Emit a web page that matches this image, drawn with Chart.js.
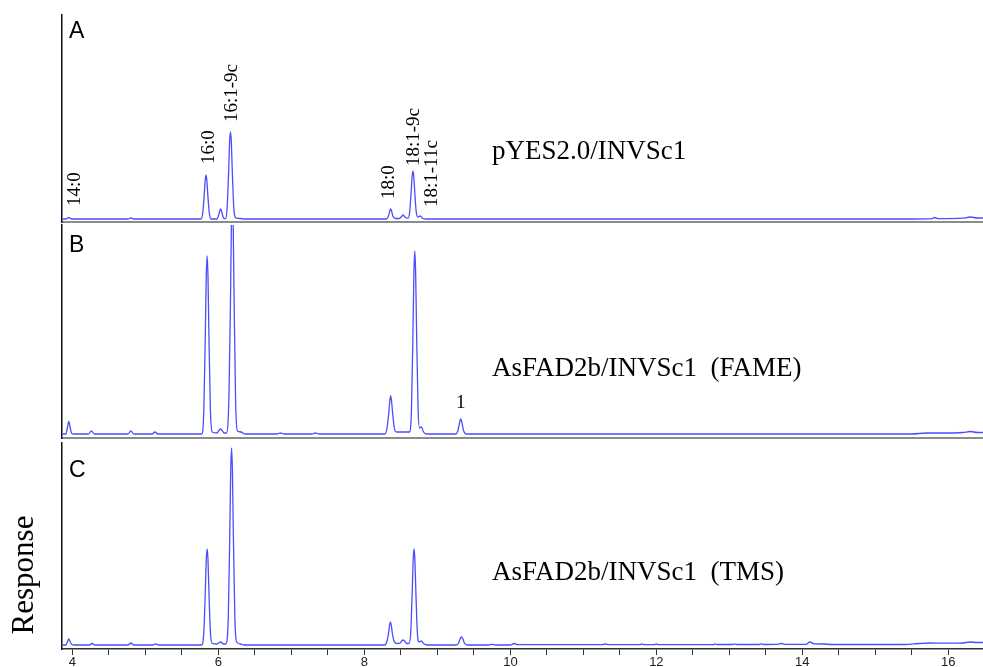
<!DOCTYPE html>
<html>
<head>
<meta charset="utf-8">
<script src="https://cdn.jsdelivr.net/npm/chart.js@4.4.1/dist/chart.umd.min.js"></script>
<style>
  html, body { margin: 0; padding: 0; background: #fff; overflow: hidden; }
  #wrap { position: relative; width: 983px; height: 667px; }
  #wrap canvas { position: absolute; left: 0; top: 0; }
</style>
</head>
<body>
<div id="wrap">
  <canvas id="chartA" width="983" height="667"></canvas>
  <canvas id="chartB" width="983" height="667"></canvas>
  <canvas id="chartC" width="983" height="667"></canvas>
</div>
<script>
// Retention time (min), detector response (arbitrary units) for each chromatogram.

// A: pYES2.0 empty-vector control
const traceA = [
  [3.85, 0], [3.91, 0], [3.95, 1.5], [3.99, 0],
  [4.76, 0], [4.80, 1], [4.84, 0],
  [5.76, 0], [5.785, 6], [5.807, 26], [5.818, 38], [5.83, 44], [5.842, 38], [5.853, 26], [5.875, 6], [5.90, 0],
  [5.98, 0], [6.00, 3], [6.018, 8], [6.03, 10], [6.042, 8], [6.06, 3], [6.08, 0.3],
  [6.10, 0.5], [6.12, 12], [6.142, 52], [6.153, 77], [6.165, 87], [6.177, 77], [6.188, 52], [6.21, 12], [6.24, 1], [6.30, 0.5], [6.36, 0],
  [8.30, 0], [8.33, 3], [8.348, 8], [8.36, 10], [8.372, 8], [8.39, 3], [8.42, 0.5],
  [8.48, 0.5], [8.51, 2.5], [8.53, 4], [8.55, 2.5], [8.58, 0.8],
  [8.60, 0.8], [8.62, 7], [8.642, 29], [8.653, 42], [8.665, 48], [8.677, 42], [8.688, 29], [8.71, 7], [8.735, 2],
  [8.765, 3], [8.80, 0.5], [8.85, 0],
  [12.0, 0], [15.5, 0], [15.78, 0.3], [15.81, 1.5], [15.86, 0.4], [16.2, 0.8], [16.3, 2], [16.4, 1], [16.475, 1]
];

// B: AsFAD2b, fatty acid methyl esters
const traceB = [
  [3.85, 0], [3.91, 0], [3.93, 6], [3.95, 12.5], [3.97, 6], [3.99, 0.5], [4.03, 0],
  [4.22, 0], [4.26, 3], [4.30, 0],
  [4.76, 0], [4.80, 3], [4.84, 0],
  [5.09, 0], [5.13, 2], [5.17, 0],
  [5.77, 0], [5.80, 24], [5.822, 107], [5.833, 157], [5.845, 178], [5.857, 157], [5.868, 107], [5.89, 24], [5.915, 2],
  [5.98, 1], [6.01, 4], [6.03, 5], [6.05, 3.5], [6.08, 1],
  [6.11, 1], [6.145, 40], [6.167, 144], [6.178, 211], [6.19, 240], [6.202, 211], [6.213, 144], [6.235, 34], [6.26, 3],
  [6.31, 2], [6.36, 0],
  [6.80, 0], [6.85, 1], [6.90, 0],
  [7.28, 0], [7.33, 1], [7.38, 0],
  [8.28, 0], [8.31, 6], [8.335, 22], [8.348, 33], [8.36, 38], [8.372, 33], [8.385, 22], [8.41, 6], [8.44, 2],
  [8.54, 2],
  [8.615, 2], [8.645, 25], [8.667, 110], [8.678, 161], [8.69, 183], [8.702, 161], [8.713, 110], [8.735, 26], [8.755, 6],
  [8.78, 7], [8.81, 2], [8.85, 0],
  [9.25, 0], [9.28, 3], [9.30, 10], [9.32, 15], [9.34, 10], [9.36, 3], [9.40, 0],
  [12.0, 0], [15.5, 0], [15.7, 1], [15.9, 1], [16.2, 1.5], [16.3, 2.5], [16.4, 1.5], [16.475, 1.5]
];

// C: AsFAD2b, trimethylsilyl derivatives
const traceC = [
  [3.85, 0], [3.91, 0], [3.93, 3], [3.95, 6], [3.97, 3], [3.99, 0.5], [4.03, 0],
  [4.23, 0], [4.27, 1.5], [4.31, 0],
  [4.76, 0], [4.80, 2], [4.84, 0],
  [5.10, 0], [5.14, 1], [5.18, 0],
  [5.77, 0], [5.80, 13], [5.822, 58], [5.833, 85], [5.845, 96], [5.857, 85], [5.868, 58], [5.89, 13], [5.915, 1.5],
  [5.98, 1], [6.03, 3], [6.07, 1],
  [6.10, 1], [6.135, 27], [6.157, 118], [6.168, 173], [6.18, 197], [6.192, 173], [6.203, 118], [6.225, 27], [6.25, 3],
  [6.30, 1], [6.35, 0],
  [8.28, 0], [8.31, 4], [8.333, 13], [8.345, 20], [8.356, 23], [8.368, 20], [8.38, 13], [8.405, 4], [8.44, 1.5],
  [8.49, 2], [8.51, 4], [8.53, 5], [8.55, 4], [8.58, 1.5],
  [8.61, 1.5], [8.635, 13], [8.657, 58], [8.668, 85], [8.68, 96], [8.692, 85], [8.703, 58], [8.725, 13], [8.75, 3],
  [8.78, 4], [8.81, 1.5], [8.86, 0],
  [9.26, 0], [9.29, 2], [9.31, 6], [9.33, 8], [9.35, 6], [9.37, 2], [9.41, 0],
  [9.70, 0], [9.75, 0.6], [9.80, 0],
  [10.0, 0], [10.05, 1.5], [10.10, 0.3],
  [11.25, 0.3], [11.30, 1], [11.35, 0.3],
  [11.77, 0.3], [11.80, 1], [11.83, 0.3],
  [11.97, 0.3], [12.00, 1], [12.03, 0.3],
  [12.78, 0.3], [12.80, 1], [12.83, 0.5],
  [13.04, 0.5], [13.07, 1], [13.10, 0.5],
  [13.41, 0.5], [13.44, 1.2], [13.47, 0.5],
  [13.66, 0.6], [13.71, 1.5], [13.76, 0.6],
  [14.05, 0.6], [14.10, 3], [14.16, 1.2], [14.30, 1], [14.40, 0.5],
  [15.40, 0.5], [15.60, 1.5], [15.74, 2], [16.0, 1.8], [16.2, 2], [16.3, 3], [16.4, 2.5], [16.475, 2.5]
];

// Time axis
const xMin = 3.85;
const xMax = 16.475;
const xTickValues = [4, 4.5, 5, 5.5, 6, 6.5, 7, 7.5, 8, 8.5, 9, 9.5, 10, 10.5, 11, 11.5, 12, 12.5, 13, 13.5, 14, 14.5, 15, 15.5, 16];
const xTickLabels = ['4', '', '', '', '6', '', '', '', '8', '', '', '', '10', '', '', '', '12', '', '', '', '14', '', '', '', '16'];

// Peak identifications (retention time, response at the foot of the label)
const peakLabelsA = [
  { text: '14:0', t: 4.04, v: 13 },
  { text: '16:0', t: 5.87, v: 55 },
  { text: '16:1-9c', t: 6.19, v: 97 },
  { text: '18:0', t: 8.34, v: 20 },
  { text: '18:1-9c', t: 8.68, v: 53 },
  { text: '18:1-11c', t: 8.93, v: 12 }
];
const peakLabelsB = [
  { text: '1', t: 9.32, v: 26, upright: true }
];

const LINE_COLOR = 'rgb(76, 76, 250)';

// Panel frames and text placement on the page
const panels = {
  chartA: {
    data: traceA, labels: peakLabelsA, yMin: -3, yMax: 204,
    top: 15, bottom: 222, letter: 'A', letterY: 37.5,
    caption: 'pYES2.0/INVSc1', captionY: 159, bottomAxis: false
  },
  chartB: {
    data: traceB, labels: peakLabelsB, yMin: -4, yMax: 209,
    top: 225, bottom: 438, letter: 'B', letterY: 251.5,
    caption: 'AsFAD2b/INVSc1  (FAME)', captionY: 375.5, bottomAxis: false
  },
  chartC: {
    data: traceC, labels: [], yMin: -4, yMax: 202,
    top: 443, bottom: 649, letter: 'C', letterY: 476.5,
    caption: 'AsFAD2b/INVSc1  (TMS)', captionY: 580, bottomAxis: true
  }
};

const PLOT_LEFT = 61.5;
const PAGE_H = 667;
const X_AXIS_H = 18;

const panelText = {
  id: 'panelText',
  afterDatasetsDraw(chart) {
    const p = panels[chart.canvas.id];
    const ctx = chart.ctx;
    const xs = chart.scales.x;
    const ys = chart.scales.y;
    ctx.save();
    ctx.fillStyle = '#000';
    ctx.textAlign = 'left';
    ctx.textBaseline = 'alphabetic';

    ctx.font = '23px "Liberation Sans", Arial, sans-serif';
    ctx.fillText(p.letter, 69, p.letterY);

    ctx.font = '27px "Liberation Serif", "Times New Roman", serif';
    ctx.fillText(p.caption, 492, p.captionY);

    ctx.font = '19px "Liberation Serif", "Times New Roman", serif';
    for (const l of p.labels) {
      const px = xs.getPixelForValue(l.t);
      const py = ys.getPixelForValue(l.v);
      if (l.upright) {
        ctx.textAlign = 'center';
        ctx.textBaseline = 'alphabetic';
        ctx.fillText(l.text, px, py);
      } else {
        ctx.save();
        ctx.translate(px, py);
        ctx.rotate(-Math.PI / 2);
        ctx.textAlign = 'left';
        ctx.textBaseline = 'middle';
        ctx.fillText(l.text, 0, 0);
        ctx.restore();
      }
    }

    if (p.bottomAxis) {
      ctx.save();
      ctx.font = '31px "Liberation Serif", "Times New Roman", serif';
      ctx.translate(25, 575);
      ctx.rotate(-Math.PI / 2);
      ctx.textAlign = 'center';
      ctx.textBaseline = 'middle';
      ctx.fillText('Response', 0, 0);
      ctx.restore();
    }
    ctx.restore();
  }
};

function makePanel(id) {
  const p = panels[id];
  const axisH = p.bottomAxis ? X_AXIS_H : 0;
  new Chart(document.getElementById(id), {
    type: 'line',
    data: {
      datasets: [{
        data: p.data,
        borderColor: LINE_COLOR,
        borderWidth: 1.3,
        pointRadius: 0,
        fill: false,
        cubicInterpolationMode: 'monotone'
      }]
    },
    options: {
      responsive: false,
      animation: false,
      events: [],
      layout: {
        padding: {
          left: PLOT_LEFT,
          right: 0,
          top: p.top,
          bottom: PAGE_H - p.bottom - axisH
        }
      },
      plugins: { legend: { display: false }, tooltip: { enabled: false } },
      scales: {
        x: {
          type: 'linear',
          min: xMin,
          max: xMax,
          afterBuildTicks(axis) { axis.ticks = xTickValues.map(v => ({ value: v })); },
          afterFit(axis) { axis.height = axisH; },
          ticks: {
            display: p.bottomAxis,
            autoSkip: false,
            maxRotation: 0,
            padding: 0,
            color: '#222',
            font: { family: '"Liberation Sans", Arial, sans-serif', size: 13 },
            callback(value, index) { return xTickLabels[index]; }
          },
          grid: {
            display: p.bottomAxis,
            drawOnChartArea: false,
            drawTicks: p.bottomAxis,
            tickLength: 6,
            color: '#333',
            lineWidth: 1
          },
          border: {
            display: true,
            color: p.bottomAxis ? '#333' : '#8c8c8c',
            width: p.bottomAxis ? 1.5 : 2
          }
        },
        y: {
          type: 'linear',
          min: p.yMin,
          max: p.yMax,
          afterFit(axis) { axis.width = 0; },
          ticks: { display: false },
          grid: { display: false, drawTicks: false },
          border: { display: true, color: '#111', width: 1.5 }
        }
      }
    },
    plugins: [panelText]
  });
}

makePanel('chartA');
makePanel('chartB');
makePanel('chartC');
</script>
</body>
</html>
